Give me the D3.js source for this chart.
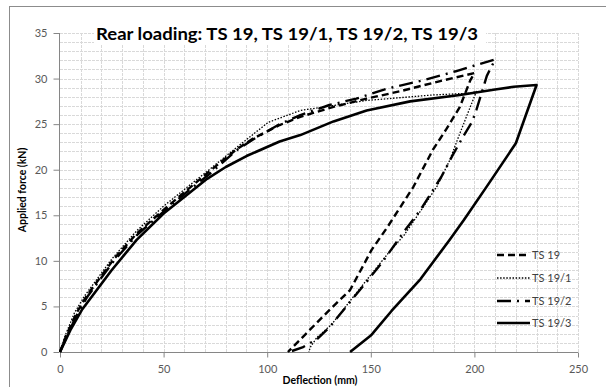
<!DOCTYPE html>
<html>
<head>
<meta charset="utf-8">
<script src="https://cdn.jsdelivr.net/npm/d3@7"></script>
<style>
  html, body { margin: 0; padding: 0; background: #fff; }
  svg { display: block; }
  text { font-family: Lato, "Open Sans", "DejaVu Sans", sans-serif; }
</style>
</head>
<body>
<svg id="chart" width="606" height="387"></svg>
<script>
// Load-deflection records, [deflection mm, force kN], loading then unloading
const ts19 = [
  [0,0],[3,1.8],[8,4.3],[13,6.2],[26,10.2],[37,13],[50,15.6],[62,17.9],[72,19.8],
  [85,22.2],[93,23.4],[106,24.9],[116,25.8],[132,26.9],[148,27.8],[164,28.6],
  [183,29.7],[200,30.6],
  [198,29.8],[193,26.9],[186.6,24.5],[180,22.2],[170.5,18.1],[158,13.7],
  [150.4,11.2],[140,6.8],[130,4.6],[120,2.3],[110,0]
];
const ts19_1 = [
  [0,0],[2.5,1.8],[7,4.3],[12,6.2],[25,10.2],[37,13.3],[50,16],[62,18.2],[72,20],
  [85,22.4],[100.5,25.2],[116,26.5],[148,27.6],[180,28.2],[198,28.4],[201,28.6],
  [197,26.3],[193,24],[188,21],[182,18.2],[175,15.8],[166,12.8],[159,11],
  [148,7.9],[140,5.6],[131,3],[124,1.6],[121,0.6],[120,0]
];
const ts19_2 = [
  [0,0],[3,1.6],[8,4],[13,6],[26,10],[37,12.8],[50,15.4],[62,17.7],[72,19.5],
  [85,22.1],[93,23.3],[106,25],[116,26],[130,27.1],[143,27.8],[158,28.9],
  [175,29.8],[191,30.8],[201,31.5],[210,32.1],
  [206,30.3],[204,28.8],[201,26.6],[199,25.3],[195,23.8],[190,21.8],[184,19.2],
  [174,15.6],[166,13.2],[156,10],[148,7.7],[140,5.5],[130,2.7],[124,1.4],
  [117,0.5],[110.5,0]
];
const ts19_3 = [
  [0,0],[5,2.4],[10.5,4.6],[25,9],[37,12.3],[50,15.2],[60,17],[71,19],[80,20.3],
  [90,21.5],[106,23.1],[116,23.8],[132,25.3],[148,26.5],[169,27.5],[193,28.2],
  [210,28.8],[219,29.1],[230,29.3],
  [220,22.9],[207,18.5],[195,14.5],[188,12.3],[174,8],[160,4.5],[150,1.8],[140,0]
];

const seriesNames = ["TS 19", "TS 19/1", "TS 19/2", "TS 19/3"];
const seriesData = [ts19, ts19_1, ts19_2, ts19_3];
const xTicks = [0, 50, 100, 150, 200, 250];
const yTicks = [0, 5, 10, 15, 20, 25, 30, 35];
const titleText = "Rear loading: TS 19, TS 19/1, TS 19/2, TS 19/3";
const xLabel = "Deflection (mm)";
const yLabel = "Applied force (kN)";

// Line styling per series
const styles = [
  { width: 2.4, dash: "7,4" },
  { width: 1.3, dash: "1.5,1.6" },
  { width: 2.4, dash: "14,6,2,6" },
  { width: 2.6, dash: null }
];

const svg = d3.select("#chart");
const plotLeft = 60, plotRight = 578, plotTop = 33, plotBottom = 352;

const x = d3.scaleLinear().domain([0, 250]).range([plotLeft, plotRight]);
const y = d3.scaleLinear().domain([0, 35]).range([plotBottom, plotTop]);

// outer chart frame
svg.append("rect")
  .attr("x", 9.5).attr("y", 6.5).attr("width", 700).attr("height", 500)
  .attr("fill", "#fff").attr("stroke", "#8c8c8c").attr("stroke-width", 1);

// gridlines: every 10 mm and every 1 kN
const grid = svg.append("g").attr("stroke", "#d9d9d9").attr("stroke-width", 1)
  .attr("stroke-dasharray", "3,1");
grid.selectAll("line.v").data(d3.range(10, 251, 10)).join("line")
  .attr("class", "v")
  .attr("x1", d => Math.round(x(d)) + 0.5).attr("x2", d => Math.round(x(d)) + 0.5)
  .attr("y1", plotTop).attr("y2", plotBottom);
grid.selectAll("line.h").data(d3.range(1, 36, 1)).join("line")
  .attr("class", "h")
  .attr("y1", d => Math.round(y(d)) + 0.5).attr("y2", d => Math.round(y(d)) + 0.5)
  .attr("x1", plotLeft).attr("x2", plotRight);

// axes
const xAxis = d3.axisBottom(x).tickValues(xTicks).tickSize(5).tickPadding(8);
const yAxis = d3.axisLeft(y).tickValues(yTicks).tickSize(6).tickPadding(6);

const gx = svg.append("g").attr("transform", `translate(0,${plotBottom + 0.5})`).call(xAxis);
const gy = svg.append("g").attr("transform", `translate(${plotLeft - 0.5},0)`).call(yAxis);
[gx, gy].forEach(g => {
  g.select(".domain").attr("stroke", "#868686");
  g.selectAll(".tick line").attr("stroke", "#868686");
  g.selectAll(".tick text").attr("fill", "#595959").attr("font-size", 11)
    .attr("font-family", "Lato, 'Open Sans', sans-serif");
});
gx.select(".domain").attr("d", `M${plotLeft},0H${plotRight}`);
gy.select(".domain").attr("d", `M0,${plotBottom}V${plotTop}`);

// curves
const line = d3.line().x(d => x(d[0])).y(d => y(d[1]));
svg.append("g").selectAll("path").data(seriesData).join("path")
  .attr("d", line)
  .attr("fill", "none")
  .attr("stroke", "#000")
  .attr("stroke-width", (d, i) => styles[i].width)
  .attr("stroke-dasharray", (d, i) => styles[i].dash)
  .attr("stroke-linejoin", "round");

// title with white backing
svg.append("rect").attr("x", 94).attr("y", 18).attr("width", 392).attr("height", 27).attr("fill", "#fff");
svg.append("text")
  .attr("x", 287).attr("y", 40)
  .attr("text-anchor", "middle")
  .attr("font-size", 17).attr("font-weight", "bold").attr("fill", "#000")
  .attr("textLength", 382).attr("lengthAdjust", "spacingAndGlyphs")
  .text(titleText);

// axis titles
svg.append("text")
  .attr("x", 320).attr("y", 384)
  .attr("text-anchor", "middle")
  .attr("font-size", 10.5).attr("font-weight", "bold").attr("fill", "#000")
  .text(xLabel);
svg.append("text")
  .attr("transform", "translate(26,190) rotate(-90)")
  .attr("text-anchor", "middle")
  .attr("font-size", 10.5).attr("font-weight", "bold").attr("fill", "#000")
  .text(yLabel);

// legend
const legendY = [255, 278, 301, 323];
const lg = svg.append("g");
seriesNames.forEach((name, i) => {
  lg.append("line")
    .attr("x1", 497).attr("x2", 530)
    .attr("y1", legendY[i]).attr("y2", legendY[i])
    .attr("stroke", "#000")
    .attr("stroke-width", styles[i].width)
    .attr("stroke-dasharray", styles[i].dash);
  lg.append("text")
    .attr("x", 532).attr("y", legendY[i] + 4)
    .attr("font-size", 11).attr("fill", "#404040")
    .text(name);
});
</script>
</body>
</html>
